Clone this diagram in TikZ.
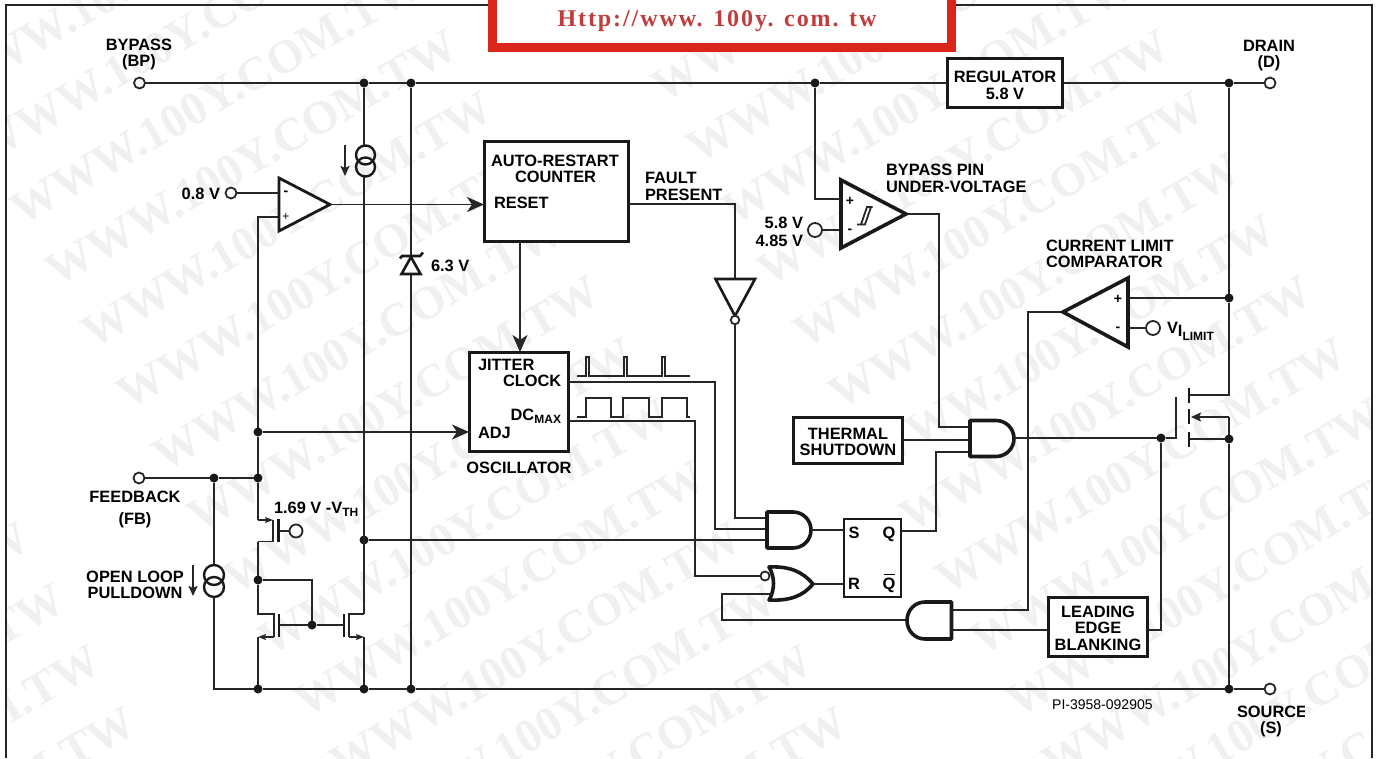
\documentclass[tikz,border=0pt]{standalone}
\usepackage{fontspec}
\setmainfont{Liberation Sans}
\newfontfamily\wmfont{Liberation Serif}
\newfontfamily\banfont[LetterSpace=8]{Liberation Serif}
\usetikzlibrary{arrows.meta}
\tikzset{
  wire/.style={line width=1.8pt,draw=black!85,line join=miter},
  bigarrow/.style={wire,-{Stealth[length=17pt,width=15pt,inset=5pt]}},
  smallarrow/.style={wire,-{Stealth[length=10pt,width=9pt,inset=2pt]}},
  tinyarrow/.style={wire,-{Stealth[length=8pt,width=6pt,inset=1.5pt]}},
  jn/.style={circle,fill=black!90,draw=none,inner sep=0pt,outer sep=0pt,minimum size=9pt},
  term/.style={circle,fill=white,draw=black!85,line width=1.8pt,inner sep=0pt,outer sep=0pt,minimum size=#1},
  term/.default=11pt,
  lbl/.style={font=\fontsize{16.4}{16.4}\selectfont\bfseries,inner sep=0pt,outer sep=0pt,text=black},
  boxA/.style={draw=black!90,line width=3pt,fill=white,inner sep=0pt,outer sep=0pt,align=center,font=\fontsize{16.4}{16.7}\selectfont\bfseries},
  gate/.style={draw=black!90,line width=3.6pt,fill=white,line join=round},
  opamp/.style={draw=black!90,line width=#1,fill=white,line join=miter},
  sign/.style={font=\fontsize{14}{14}\selectfont\bfseries,inner sep=0pt},
  bar/.style={draw=black!90,line width=2.2pt},
  wm/.style={font=\wmfont\bfseries\fontsize{47}{47}\selectfont,text=black!6,rotate=30,anchor=base east,inner sep=0pt},
}
\newcommand{\sbs}[1]{\raisebox{-3.5pt}{\fontsize{12}{12}\selectfont #1}}
\begin{document}
\begin{tikzpicture}[x=1pt,y=-1pt]
\useasboundingbox (0,0) rectangle (1382,758);
% watermark
\begin{scope}
\clip (6,0) rectangle (1372,758);
\foreach \c in {-1,0,1} {
  \foreach \r in {-3,...,12} {
    \pgfmathsetmacro{\wx}{461+712*\c+35.5*\r}
    \pgfmathsetmacro{\wy}{55+61.5*\r}
    \node[wm] at (\wx,\wy) {WWW.100Y.COM.TW};
  }
}
\end{scope}
% frame
\draw[line width=1.8pt,draw=black!85] (6,758) -- (6,5) -- (1372,5) -- (1372,758);
% banner
\node[draw={rgb,255:red,218;green,37;blue,27},fill=white,line width=9pt,minimum width=459pt,minimum height=56pt,outer sep=0pt,inner sep=0pt] (banner) at (722,19.5) {};
\node[font=\banfont\bfseries\fontsize{24}{24}\selectfont,text={rgb,255:red,195;green,60;blue,60},inner sep=0pt,anchor=base] (bantext) at (717,26) {Http://www. 100y. com. tw};
% junctions & terminals
\node[term] (tBP) at (139.5,83) {};
\node[term] (tD) at (1270,83) {};
\node[term] (tFB) at (139,478) {};
\node[term] (tS) at (1270,689) {};
\foreach \n/\x/\y in {jA/364/83,jB/411/83,jC/815/83,jD/1229/83,jE/1229/298,jF/1229/439,jG/1161/438,
  jH/258/432,jI/258/478,jJ/214/478,jK/364/540,jL/258/580,jM/312/625,
  jN/258/689,jO/364/689,jP/411/689,jQ/1229/689}
  {\node[jn] (\n) at (\x,\y) {};}
% boxes
\node[boxA,minimum width=144pt,minimum height=100pt] (arc) at (556,191) {};
\node[boxA,minimum width=99pt,minimum height=99pt] (osc) at (519,402) {};
\node[boxA,minimum width=115pt,minimum height=49pt] (reg) at (1005,83) {\rule{0pt}{16pt}REGULATOR\\5.8 V};
\node[boxA,line width=2.6pt,minimum width=109pt,minimum height=46pt] (therm) at (848,440.5) {\rule{0pt}{14pt}THERMAL\\SHUTDOWN};
\node[boxA,minimum width=99pt,minimum height=59pt] (leb) at (1098,627) {\rule{0pt}{14pt}LEADING\\EDGE\\BLANKING};
\node[boxA,line width=2pt,minimum width=57pt,minimum height=78pt] (sr) at (872.5,558) {};
% pin coordinates
\coordinate (arcIn) at (484,204.5);
\coordinate (arcOut) at (628,204);
\coordinate (arcDown) at (520,241);
\coordinate (oscIn) at (520,352);
\coordinate (oscAdj) at (469,432);
\coordinate (oscClk) at (569,382);
\coordinate (oscDc) at (569,421);
\coordinate (srS) at (844,530);
\coordinate (srR) at (844,584);
\coordinate (srQ) at (901,531);
\coordinate (regR) at (1062.5,83);
\coordinate (thermOut) at (902,440);
\coordinate (lebL) at (1048,630);
\coordinate (lebR) at (1148,630);
% wires: top rail and verticals
\draw[wire] (tBP) -- (jA) -- (jB) -- (jC) -- (reg.west);
\draw[wire] (regR) -- (jD) -- (tD);
\draw[wire] (jD) -- (jE) -- (1229,395) coordinate (drainTop) -- (1190,395) coordinate (mD);
\draw[wire] (jE) -- (1129,298) coordinate (clP);
\draw[wire] (jF) -- (1190,439) coordinate (mS);
\draw[wire] (jF) -- (jQ);
\draw[wire] (jF) -- (1229,417) coordinate (mB);
\draw[smallarrow] (mB) -- (1191,417) coordinate (mBt);
\draw[wire] (jN) -- (jO) -- (jP) -- (jQ) -- (tS);
\draw[wire] (jB) -- (jP);
% zener
\draw[draw=black!90,line width=2.6pt,fill=white,line join=miter] (411,257) -- (401.5,274) -- (420.5,274) -- cycle;
\draw[draw=black!90,line width=2.6pt] (400,258.5) -- (402,256) -- (420,256) -- (423,252.5);
% current sources
\draw[wire] (jA) -- (364,146) coordinate (cs1a);
\node[draw=black!90,line width=2.4pt,circle,inner sep=0,minimum size=19pt] (cs1t) at (365.5,155) {};
\node[draw=black!90,line width=2.4pt,circle,inner sep=0,minimum size=19pt] (cs1b) at (365.5,167) {};
\draw[wire] (364,177) coordinate (cs1c) -- (364,614) coordinate (qRd);
\draw[smallarrow] (345,145) coordinate (arA) -- (345,176) coordinate (arB);
\draw[wire] (jJ) -- (214,565);
\node[draw=black!90,line width=2.4pt,circle,inner sep=0,minimum size=20pt] (cs2t) at (214,575) {};
\node[draw=black!90,line width=2.4pt,circle,inner sep=0,minimum size=20pt] (cs2b) at (214,587) {};
\draw[wire] (214,597) -- (214,689) -- (jN);
\draw[smallarrow] (193,565) coordinate (arC) -- (193,596) coordinate (arD);
% FB
\draw[wire] (tFB) -- (jJ) -- (jI);
\draw[wire] (279,217) coordinate (cmpP) -- (258,217) -- (jH) -- (jI) -- (258,520) coordinate (pSrc);
\draw[bigarrow] (jH) -- (oscAdj);
% PMOS
\draw[tinyarrow] (pSrc) -- (273,520) coordinate (pCh1);
\draw[wire] (273,520) -- (273,541.5) -- (258,541.5) coordinate (pDrn);
\draw[wire] (pDrn) -- (jL) -- (258,614) coordinate (qLd) -- (274,614) coordinate (qLg1) -- (274,637) coordinate (qLg2);
\draw[bar] (278.5,519) -- (278.5,542);
\node[term=13pt] (tPg) at (296,531) {};
\draw[wire] (278.5,531) -- (tPg);
% NMOS mirror
\draw[tinyarrow] (qLg2) -- (258,637) coordinate (qLs);
\draw[wire] (qLs) -- (jN);
\draw[bar] (279,614) -- (279,637);
\draw[wire] (279,625) -- (jM) -- (344,625);
\draw[wire] (jL) -- (312,580) -- (jM);
\draw[bar] (344,614) -- (344,637);
\draw[wire] (qRd) -- (349,614) -- (349,637) coordinate (qRg);
\draw[tinyarrow] (qRg) -- (364,637) coordinate (qRs);
\draw[wire] (qRs) -- (jO);
% first comparator
\draw[opamp=2.8pt] (279,178) -- (279,231) -- (330,204.5) -- cycle;
\node[term] (t08) at (231,193) {};
\draw[wire] (t08) -- (279,193) coordinate (cmpM);
\draw[bigarrow] (330,204.5) coordinate (cmpOut) -- (arcIn);
\node[sign] (cM) at (286,193) {-};
\node[sign,font=\fontsize{12}{12}\selectfont] (cP) at (286,217.5) {+};
% arc -> osc
\draw[bigarrow] (arcDown) -- (oscIn);
% inverter
\draw[wire] (arcOut) -- (735,204) -- (735,279) coordinate (invT);
\draw[opamp=2.6pt] (715.5,279) -- (755,279) -- (735,316) -- cycle;
\node[term=8.5pt] (invB) at (735,320) {};
\draw[wire] (invB) -- (735,518) -- (767,518) coordinate (and1a);
% osc outputs
\draw[wire] (oscClk) -- (715,382) -- (715,529) -- (767,529) coordinate (and1b);
\draw[wire] (oscDc) -- (695,421) -- (695,576) -- (761,576) coordinate (norA);
\draw[wire] (jK) -- (767,540) coordinate (and1c);
% waves
\draw[wire,line width=1.5pt] (577,376) -- (586,376) -- (586,357) -- (589,357) -- (589,376) -- (624,376) -- (624,357) -- (627,357) -- (627,376) -- (662,376) -- (662,357) -- (665,357) -- (665,376) -- (690,376);
\draw[wire,line width=1.5pt] (577,417) -- (586,417) -- (586,398) -- (611,398) -- (611,417) -- (623,417) -- (623,398) -- (649,398) -- (649,417) -- (662,417) -- (662,398) -- (687,398) -- (687,417) -- (690,417);
% gates
\draw[gate] (767,512) -- (793,512) .. controls (803,512) and (811,520) .. (811,530) .. controls (811,540) and (803,548) .. (793,548) -- (767,548) -- cycle;
\draw[gate] (769,567) .. controls (790,566) and (803,572) .. (813,584) .. controls (803,596) and (790,601) .. (769,600) .. controls (775,590) and (775,577) .. (769,567) -- cycle;
\node[term=9pt] (norB) at (765,576) {};
\draw[wire] (811,530) coordinate (and1o) -- (srS);
\draw[wire] (813,584) coordinate (noro) -- (srR);
\draw[wire] (772,594) coordinate (norC) -- (722,594) -- (722,620) -- (907,620) coordinate (and3o);
\draw[gate] (951.5,602) -- (925,602) .. controls (915,602) and (907,610) .. (907,620.5) .. controls (907,631) and (915,639) .. (925,639) -- (951.5,639) -- cycle;
\draw[wire] (951.5,630) coordinate (and3b) -- (lebL);
\draw[wire] (951.5,610) coordinate (and3a) -- (1028,610) -- (1028,312) -- (1063,312) coordinate (clOut);
\draw[wire] (lebR) -- (1161,630) -- (jG);
% and2
\draw[wire] (906,214) coordinate (uvOut) -- (939,214) -- (939,427) -- (970,427) coordinate (and2a);
\draw[wire] (thermOut) -- (970,440) coordinate (and2b);
\draw[wire] (srQ) -- (936,531) -- (936,452) -- (970,452) coordinate (and2c);
\draw[gate] (970,420.5) -- (996,420.5) .. controls (1006,420.5) and (1014,428.5) .. (1014,438.5) .. controls (1014,448.5) and (1006,456.5) .. (996,456.5) -- (970,456.5) -- cycle;
\draw[wire] (1014,438) coordinate (and2o) -- (jG) -- (1176,438) -- (1176,397) coordinate (mG);
% MOSFET
\draw[bar,line width=2.6pt] (1189,388) -- (1189,403);
\draw[bar,line width=2.6pt] (1189,409) -- (1189,424);
\draw[bar,line width=2.6pt] (1189,432) -- (1189,447);
% UV comparator
\draw[wire] (jC) -- (815,199) -- (841,199) coordinate (uvP);
\node[term=14pt] (t58) at (815,230) {};
\draw[wire] (t58) -- (841,230) coordinate (uvM);
\draw[opamp=3.6pt] (841,180) -- (841,248) -- (906,214) -- cycle;
\node[sign] (uP) at (850,201) {+};
\node[sign] (uM) at (850,231) {-};
\draw[wire] (857,224.5) -- (865,224.5) -- (871,207) (861,224.5) -- (867,207) -- (872.5,207);
% current limit comparator
\draw[opamp=3.6pt] (1063,312) -- (1128,278) -- (1128,347) -- cycle;
\node[term=14pt] (tV) at (1153,328) {};
\draw[wire] (1128,328) coordinate (clM) -- (tV);
\node[sign] (lP) at (1118,299) {+};
\node[sign] (lM) at (1118,329) {-};
% labels
\node[lbl,anchor=base] (l1) at (139,50) {BYPASS};
\node[lbl,anchor=base] (l2) at (139,66.5) {(BP)};
\node[lbl,anchor=base] (l3) at (1269,51) {DRAIN};
\node[lbl,anchor=base] (l4) at (1269,67) {(D)};
\node[lbl,anchor=base east] (l5) at (220,199) {0.8 V};
\node[lbl,anchor=base west] (l6) at (431,271) {6.3 V};
\node[lbl,anchor=base west] (l7) at (491,166) {AUTO-RESTART};
\node[lbl,anchor=base west] (l8) at (515,182) {COUNTER};
\node[lbl,anchor=base west] (l9) at (494,208) {RESET};
\node[lbl,anchor=base west] (l10) at (645,183) {FAULT};
\node[lbl,anchor=base west] (l11) at (645,200) {PRESENT};
\node[lbl,anchor=base west] (l12) at (886,175) {BYPASS PIN};
\node[lbl,anchor=base west] (l13) at (886,192) {UNDER-VOLTAGE};
\node[lbl,anchor=base east] (l14) at (803,228) {5.8 V};
\node[lbl,anchor=base east] (l15) at (803,246) {4.85 V};
\node[lbl,anchor=base west] (l16) at (1046,251) {CURRENT LIMIT};
\node[lbl,anchor=base west] (l17) at (1046,267) {COMPARATOR};
\node[lbl,anchor=base west] (l18) at (1167,333) {V\raisebox{-3.5pt}{I\raisebox{-3.5pt}{\fontsize{12}{12}\selectfont LIMIT}}};
\node[lbl,anchor=base west] (l19) at (478,370) {JITTER};
\node[lbl,anchor=base west] (l20) at (503,386) {CLOCK};
\node[lbl,anchor=base east] (l21) at (561,420) {DC\sbs{MAX}};
\node[lbl,anchor=base west] (l22) at (478,438) {ADJ};
\node[lbl,anchor=base] (l23) at (519,473) {OSCILLATOR};
\node[lbl,anchor=base] (l24) at (135,502) {FEEDBACK};
\node[lbl,anchor=base] (l25) at (135,524) {(FB)};
\node[lbl,anchor=base] (l26) at (135,582) {OPEN LOOP};
\node[lbl,anchor=base] (l27) at (135,598) {PULLDOWN};
\node[lbl,anchor=base west] (l28) at (274,513) {1.69 V -V\sbs{TH}};
\node[lbl,anchor=base] (l29) at (854,538) {S};
\node[lbl,anchor=base] (l30) at (889,538) {Q};
\node[lbl,anchor=base] (l31) at (854,589) {R};
\node[lbl,anchor=base] (l32) at (889,589) {Q};
\draw[line width=1.5pt] (883.5,574.5) -- (895,574.5);
\node[inner sep=0pt,anchor=base west,font=\fontsize{14}{14}\selectfont] (l33) at (1052,709) {PI-3958-092905};
\begin{scope}
\clip (1200,690) rectangle (1304,740);
\node[lbl,anchor=base west] (l34) at (1237,717) {SOURCE};
\end{scope}
\node[lbl,anchor=base] (l35) at (1271,733) {(S)};
\end{tikzpicture}
\end{document}
